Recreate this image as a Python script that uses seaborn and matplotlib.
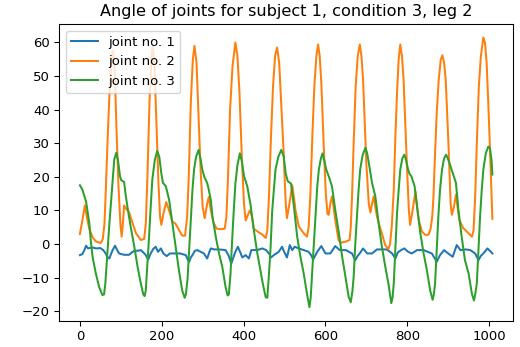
import matplotlib
matplotlib.use("Agg")
import matplotlib.pyplot as plt
import seaborn as sns
import pandas as pd

# ---- data (sample index knots and joint angles) ----
j1_x = [0, 6, 12, 15, 20, 30, 40, 50, 57, 63, 68, 72, 76, 80, 86, 91, 96, 108, 120, 127,
        133, 141, 149, 155, 161, 167, 173, 179, 185, 191, 198, 204, 212, 220, 232, 245, 259,
        263, 267, 271, 275, 281, 287, 295, 303, 311, 316, 320, 328, 340, 356, 363, 370, 375,
        380, 386, 392, 397, 405, 413, 419, 433, 446, 455, 462, 467, 474, 486, 494, 498, 506,
        513, 519, 525, 535, 547, 559, 565, 570, 575, 580, 590, 600, 612, 624, 635, 650, 665,
        673, 679, 684, 692, 702, 714, 726, 740, 750, 763, 771, 777, 785, 793, 802, 811, 824,
        840, 860, 866, 872, 880, 890, 900, 911, 921, 930, 943, 954, 966, 974, 980, 986, 996,
        1002, 1008]
j1_y = [-3.3, -3.0, -1.5, -0.5, -1.3, -1.0, -1.3, -1.2, -1.8, -2.8, -4.0, -4.3, -3.0, -1.8,
        -0.5, -1.8, -2.8, -3.2, -3.2, -2.5, -2.0, -2.0, -1.8, -2.5, -3.3, -4.6, -2.8, -1.5,
        -0.8, -2.3, -1.3, -2.8, -3.6, -2.8, -2.8, -2.8, -3.3, -4.5, -5.3, -4.0, -3.3, -2.0,
        -1.8, -2.3, -2.8, -4.3, -2.5, -1.3, -1.6, -1.6, -1.8, -3.3, -5.8, -4.0, -2.3, -0.8,
        -2.5, -4.0, -3.3, -4.3, -1.8, -1.8, -1.3, -1.8, -2.8, -4.0, -3.3, -2.3, -0.8, -2.0,
        -4.0, -0.3, -1.8, -0.8, -1.3, -1.8, -2.3, -3.3, -4.6, -3.5, -2.3, -0.6, -2.8, -2.8,
        -0.6, -1.8, -1.8, -2.8, -4.8, -3.5, -2.8, -1.3, -2.8, -2.8, -1.6, -1.6, -1.6, -2.8,
        -4.3, -2.5, -1.8, -1.3, -2.3, -2.8, -1.8, -1.8, -2.8, -4.0, -5.3, -3.3, -1.8, -2.8,
        -3.8, -0.3, -1.8, -1.6, -1.8, -2.8, -4.8, -3.5, -2.8, -1.3, -2.0, -2.8]

j2_x = [0, 6, 12, 17, 23, 31, 39, 51, 56, 60, 63, 68, 73, 78, 81, 85, 89, 94, 99, 102, 105,
        108, 113, 120, 128, 137, 149, 157, 161, 165, 170, 175, 178, 182, 187, 192, 196, 199,
        204, 211, 218, 226, 234, 242, 250, 257, 262, 266, 271, 276, 280, 285, 290, 295, 300,
        305, 311, 315, 320, 326, 334, 344, 354, 358, 362, 367, 373, 380, 385, 390, 396, 401,
        405, 410, 415, 420, 425, 437, 446, 454, 458, 462, 467, 472, 477, 482, 487, 492, 498,
        503, 506, 512, 519, 523, 527, 535, 547, 555, 559, 563, 568, 573, 578, 582, 586, 590,
        596, 601, 605, 608, 612, 616, 620, 624, 632, 637, 649, 659, 662, 665, 669, 674, 679,
        684, 688, 692, 700, 706, 710, 714, 718, 722, 726, 732, 738, 746, 754, 758, 762, 767,
        771, 775, 779, 783, 787, 791, 799, 804, 807, 813, 820, 824, 828, 836, 844, 852, 857,
        861, 864, 868, 872, 877, 882, 886, 890, 894, 901, 906, 909, 914, 919, 923, 927, 937,
        950, 958, 962, 966, 970, 975, 980, 986, 990, 994, 998, 1002, 1006, 1008]
j2_y = [3.0, 7.0, 11.5, 8.0, 4.5, 2.0, 0.8, 0.3, 1.5, 6.0, 15.0, 32.0, 47.0, 56.0, 57.5,
        52.0, 36.0, 18.0, 6.0, 2.2, 6.0, 11.5, 10.5, 9.5, 6.5, 3.2, 1.2, 1.5, 6.0, 20.0, 42.0,
        56.0, 59.0, 54.0, 36.0, 18.0, 8.0, 5.7, 9.0, 12.5, 10.0, 6.7, 6.0, 4.2, 2.5, 2.5, 8.0,
        20.0, 42.0, 55.0, 59.0, 54.0, 38.0, 22.0, 11.0, 7.7, 12.0, 14.0, 10.0, 6.5, 4.6, 4.4,
        4.6, 8.0, 20.0, 40.0, 53.0, 60.0, 56.0, 45.0, 25.0, 12.0, 7.0, 8.5, 10.0, 8.5, 4.5,
        3.5, 2.8, 1.8, 4.0, 14.0, 32.0, 47.0, 56.0, 58.5, 54.0, 42.0, 27.0, 12.0, 7.7, 12.0,
        17.5, 14.0, 10.0, 5.2, 3.2, 2.2, 5.0, 14.0, 32.0, 47.0, 56.0, 59.4, 56.0, 48.0, 29.0,
        15.0, 9.0, 8.7, 12.0, 14.2, 11.0, 7.2, 1.2, 0.4, 0.7, 1.2, 5.0, 14.0, 30.0, 47.0,
        56.0, 59.4, 56.0, 49.0, 24.0, 12.0, 9.4, 12.0, 14.2, 11.0, 8.2, 5.5, 3.2, -0.3, -1.5,
        0.0, 5.0, 16.0, 32.0, 45.0, 55.0, 59.4, 56.0, 49.0, 24.0, 10.0, 5.7, 10.0, 15.7, 11.0,
        7.2, 3.7, 2.7, 2.8, 4.5, 8.0, 14.0, 27.0, 39.0, 49.0, 55.0, 56.2, 54.0, 49.0, 29.0,
        12.0, 8.7, 11.0, 14.7, 11.0, 7.2, 4.7, 3.2, 2.2, 4.0, 14.0, 30.0, 47.0, 56.0, 61.5,
        60.0, 54.0, 42.0, 29.0, 14.0, 7.5]

j3_x = [0, 6, 15, 23, 27, 31, 39, 47, 55, 59, 62, 67, 72, 77, 84, 89, 93, 98, 101, 108, 112,
        116, 124, 133, 141, 149, 155, 158, 161, 165, 169, 173, 177, 183, 189, 194, 199, 203,
        210, 218, 226, 234, 242, 250, 256, 259, 263, 267, 271, 275, 279, 284, 290, 295, 299,
        304, 311, 315, 320, 324, 332, 340, 348, 356, 361, 364, 368, 372, 376, 380, 385, 391,
        396, 401, 409, 417, 425, 433, 441, 447, 454, 458, 462, 466, 470, 474, 478, 485, 492,
        498, 503, 508, 516, 523, 531, 539, 547, 555, 561, 564, 567, 572, 576, 580, 584, 589,
        593, 597, 602, 608, 616, 624, 633, 641, 649, 657, 662, 666, 669, 673, 677, 681, 685,
        691, 698, 702, 706, 714, 722, 730, 738, 746, 754, 761, 764, 767, 771, 775, 779, 783,
        788, 793, 797, 802, 806, 810, 818, 824, 832, 840, 848, 856, 862, 865, 868, 872, 876,
        880, 885, 890, 895, 899, 903, 911, 919, 925, 933, 941, 950, 958, 963, 966, 970, 974,
        978, 982, 986, 992, 998, 1002, 1006, 1008]
j3_y = [17.5, 16.2, 12.7, 6.2, 0.5, -3.8, -8.8, -12.8, -15.2, -15.0, -12.0, -2.8, 6.0, 14.0,
        25.2, 27.2, 25.0, 20.2, 19.0, 18.5, 14.5, 11.2, 5.2, -0.8, -6.8, -11.8, -15.0, -15.5,
        -13.8, -6.0, 2.2, 11.0, 19.2, 25.0, 27.7, 26.0, 21.0, 18.2, 17.2, 13.2, 6.2, -0.8,
        -7.8, -13.8, -16.0, -15.0, -10.5, -2.0, 7.0, 16.0, 22.2, 26.0, 28.0, 25.2, 22.2, 20.0,
        18.2, 16.2, 13.0, 8.2, 2.2, -2.8, -6.8, -12.8, -15.3, -15.0, -9.0, 1.0, 10.0, 18.0,
        23.5, 27.0, 24.5, 20.2, 17.2, 11.7, 4.2, -2.3, -7.8, -11.8, -15.8, -16.0, -9.0, -1.0,
        10.0, 16.0, 22.2, 26.0, 28.0, 26.2, 21.0, 18.7, 18.0, 11.2, 2.2, -3.8, -8.8, -14.8,
        -18.8, -16.0, -9.8, 1.0, 9.2, 17.0, 22.2, 25.5, 27.0, 25.0, 22.2, 20.2, 17.2, 10.2,
        3.2, -3.8, -9.8, -15.8, -17.3, -14.0, -9.8, 0.0, 8.2, 16.0, 22.2, 26.5, 28.7, 27.0,
        24.2, 18.2, 14.2, 6.2, -0.8, -6.5, -11.8, -17.6, -16.0, -11.8, -1.0, 9.2, 16.0, 22.2,
        25.5, 26.6, 25.0, 22.2, 20.8, 20.2, 17.2, 11.2, 3.2, -2.8, -7.8, -13.8, -16.6, -15.0,
        -11.8, -2.0, 8.2, 16.0, 22.2, 25.5, 26.6, 25.5, 24.2, 21.2, 18.2, 10.2, 2.2, -4.8,
        -8.8, -14.8, -16.8, -15.0, -11.8, -2.0, 8.2, 16.0, 22.2, 27.0, 29.0, 28.5, 25.0, 20.7]

labels = ["joint no. 1", "joint no. 2", "joint no. 3"]
title = "Angle of joints for subject 1, condition 3, leg 2"

# ---- plotting ----
plt.rcParams["font.family"] = ["DejaVu Sans"]
plt.rcParams["font.size"] = 9.5
plt.rcParams["axes.linewidth"] = 0.77
plt.rcParams["xtick.major.width"] = 0.77
plt.rcParams["ytick.major.width"] = 0.77
plt.rcParams["xtick.major.size"] = 3.4
plt.rcParams["ytick.major.size"] = 3.4
plt.rcParams["xtick.major.pad"] = 3.4
plt.rcParams["ytick.major.pad"] = 3.4

fig = plt.figure(figsize=(5.2, 3.47), dpi=100)
ax = fig.add_axes([0.114, 0.0758, 0.8725, 0.8552])

colors = sns.color_palette("tab10", 3)
series = [(j1_x, j1_y), (j2_x, j2_y), (j3_x, j3_y)]
for (xs, ys), lab, col in zip(series, labels, colors):
    df = pd.DataFrame({"sample": xs, "angle": ys})
    sns.lineplot(data=df, x="sample", y="angle", ax=ax, color=col, label=lab,
                 linewidth=1.45, estimator=None)

ax.set_xlabel("")
ax.set_ylabel("")
ax.set_xticks([0, 200, 400, 600, 800, 1000])
ax.set_yticks([-20, -10, 0, 10, 20, 30, 40, 50, 60])
ax.set_title(title, fontsize=11.6, pad=5.5)
ax.legend(loc="upper left", fontsize=9.5)

fig.savefig("out.png", dpi=100)
